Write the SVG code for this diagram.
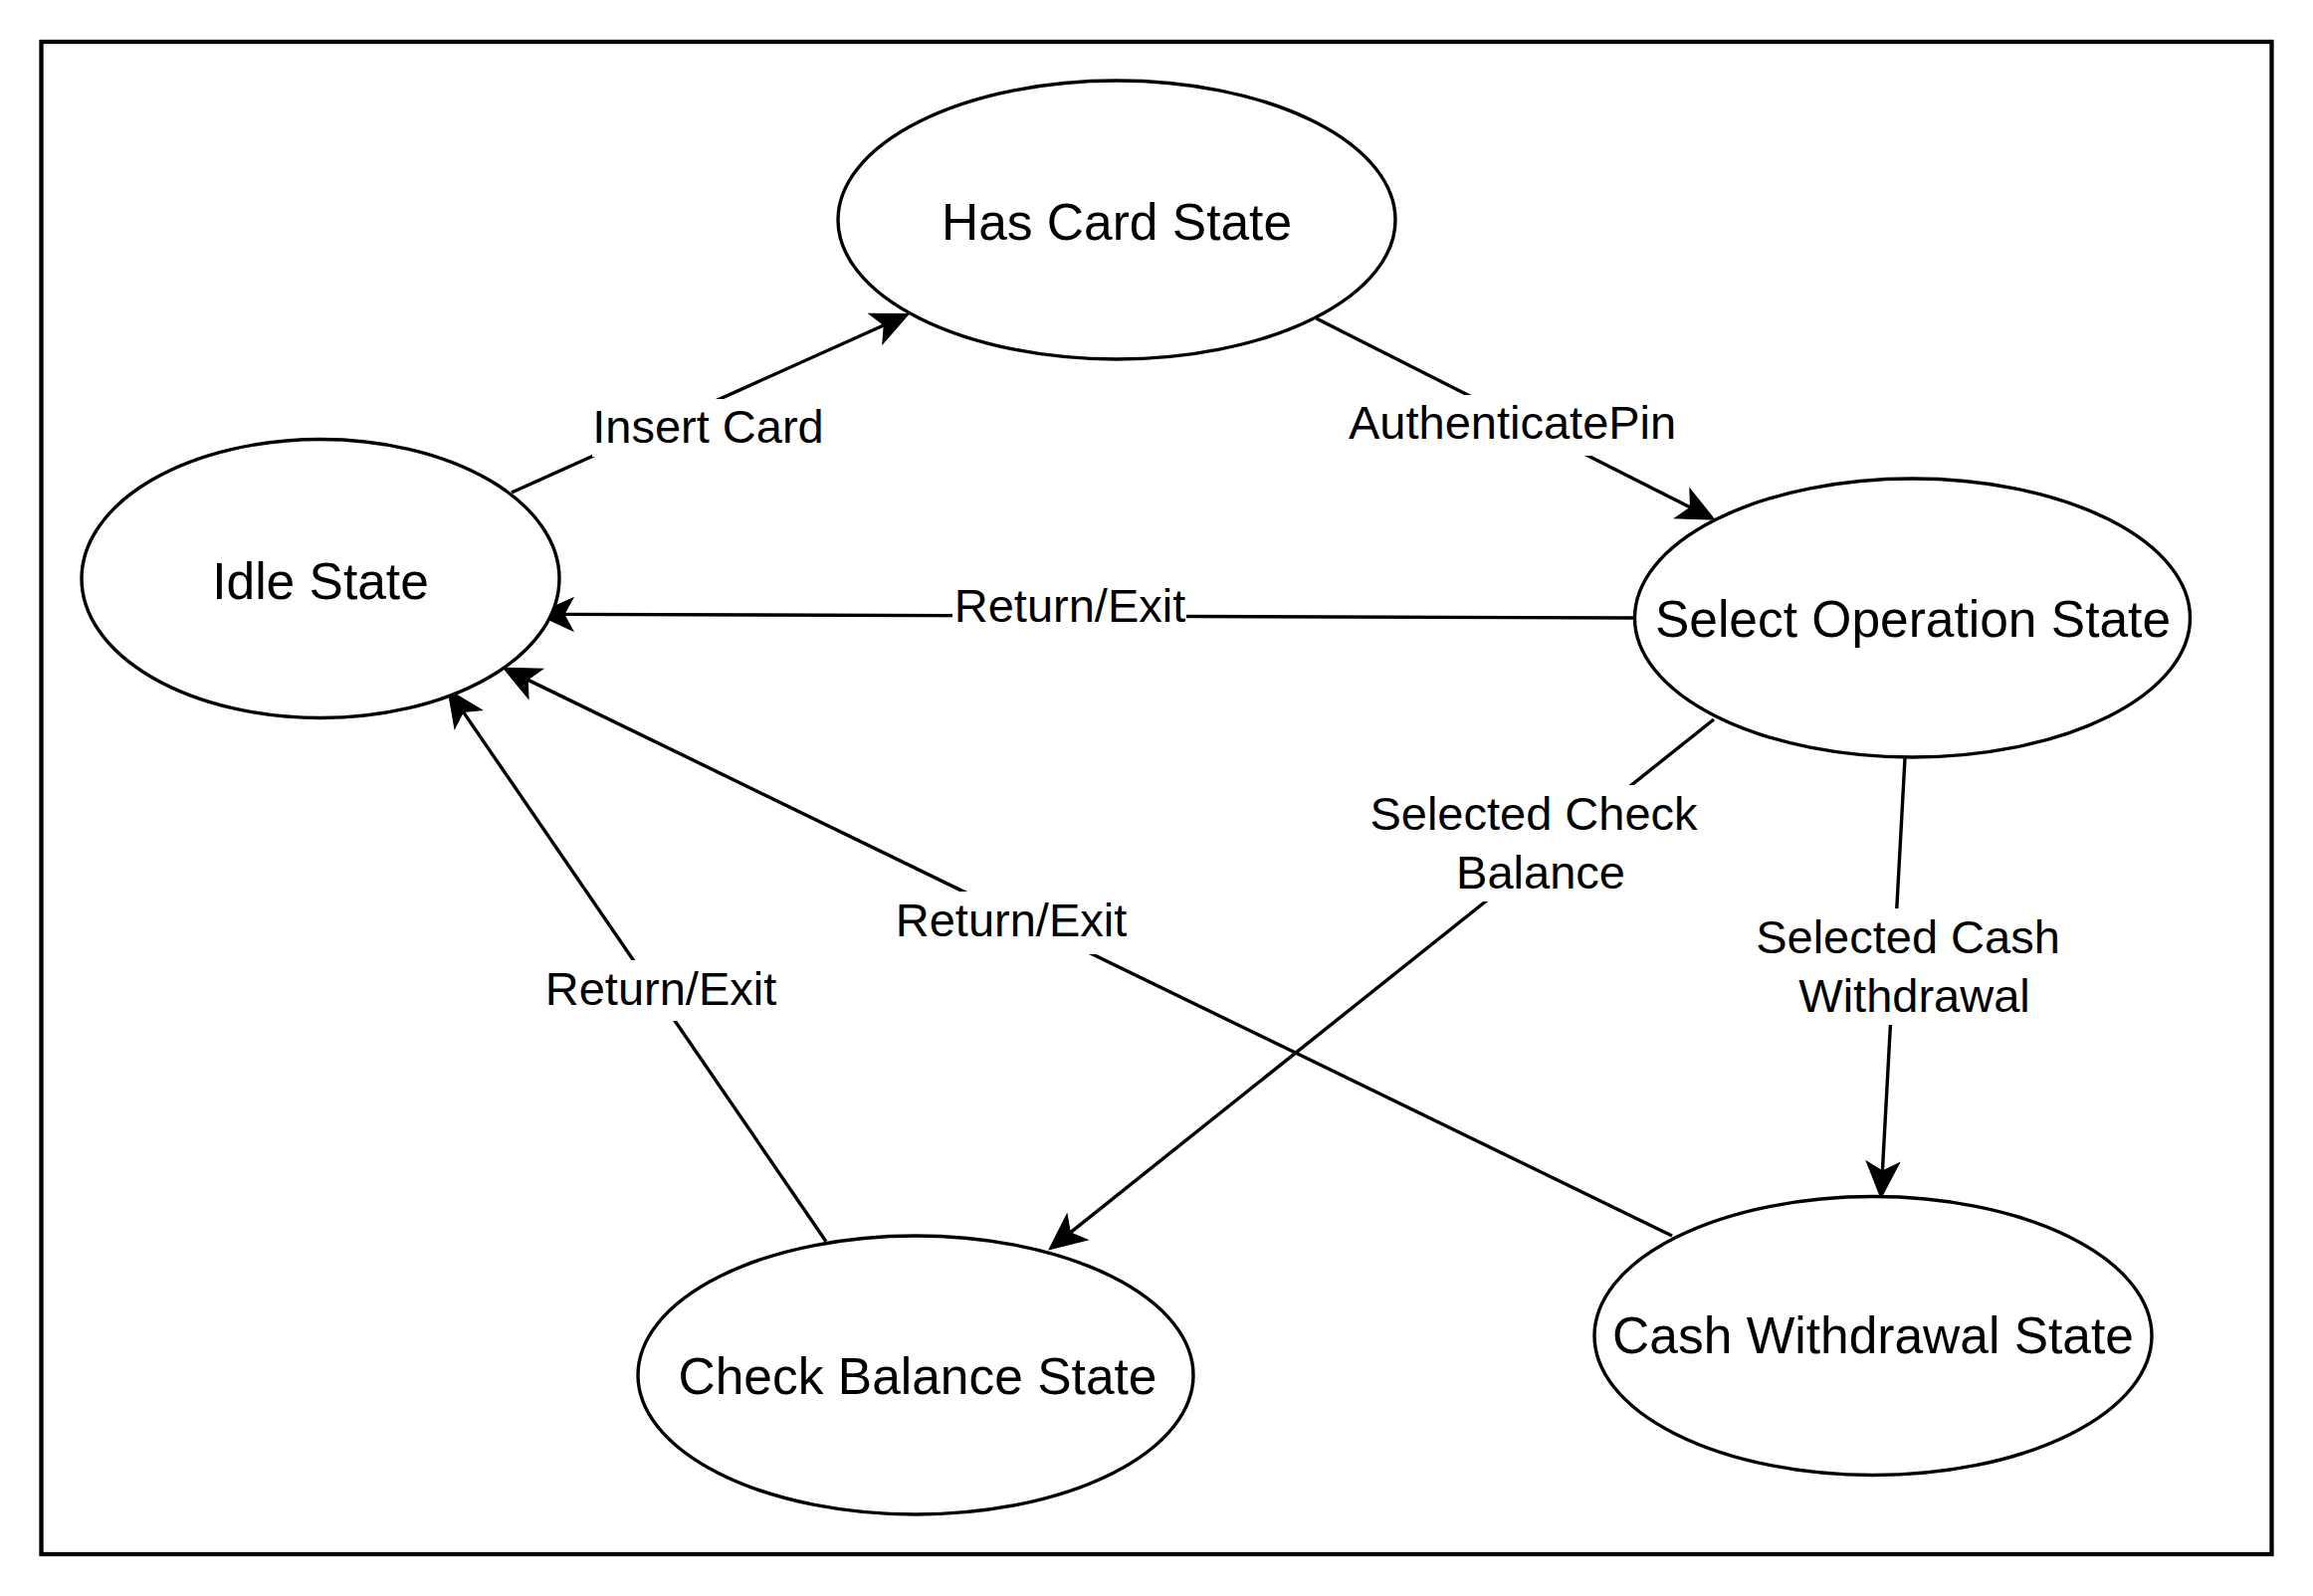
<svg xmlns="http://www.w3.org/2000/svg" width="2324" height="1604" viewBox="0 0 2324 1604">
  <style>
    .node { fill: #ffffff; stroke: #000000; stroke-width: 3.4; }
    .ntext { font-family: "Liberation Sans", Arial, Helvetica, sans-serif; font-size: 51.5px; fill: #000000; text-anchor: middle; }
    .edge { fill: none; stroke: #000000; stroke-width: 3.4; marker-end: url(#arrow); }
    .lblbg { fill: #ffffff; stroke: none; }
    .etext { font-family: "Liberation Sans", Arial, Helvetica, sans-serif; font-size: 47px; fill: #000000; text-anchor: middle; }
  </style>
  <defs>
    <marker id="arrow" markerUnits="userSpaceOnUse" markerWidth="46" markerHeight="40" viewBox="-13 -20 46 40" refX="0" refY="0" orient="auto">
      <path d="M27,0 L-9,-16.5 L0,0 L-9,16.5 Z" fill="#000000" stroke="#000000" stroke-width="1.2" stroke-linejoin="miter"/>
    </marker>
  </defs>
  <rect x="0" y="0" width="2324" height="1604" fill="#ffffff"/>
  <rect x="41.5" y="42" width="2241" height="1520" fill="none" stroke="#000000" stroke-width="4.3"/>

  <g id="connectors">
    <g id="edge-insert-card">
      <line class="edge" x1="514" y1="495" x2="888.3" y2="326.7"/>
      <rect class="lblbg" x="595" y="401" width="233" height="58"/>
      <text class="etext" x="711.5" y="445">Insert Card</text>
    </g>
    <g id="edge-authenticate-pin">
      <line class="edge" x1="1322.5" y1="320" x2="1698.5" y2="510"/>
      <rect class="lblbg" x="1353" y="397" width="333" height="61"/>
      <text class="etext" x="1519.6" y="441">AuthenticatePin</text>
    </g>
    <g id="edge-return-select">
      <line class="edge" x1="1642.5" y1="621" x2="566.7" y2="617.4"/>
      <rect class="lblbg" x="957" y="590" width="235" height="50"/>
      <text class="etext" x="1075" y="625">Return/Exit</text>
    </g>
    <g id="edge-selected-check">
      <line class="edge" x1="1722" y1="723" x2="1075.3" y2="1238.8"/>
      <rect class="lblbg" x="1375" y="789" width="333" height="117"/>
      <text class="etext" x="1541" y="834">Selected Check</text>
      <text class="etext" x="1548" y="893">Balance</text>
    </g>
    <g id="edge-selected-cash">
      <line class="edge" x1="1914" y1="762" x2="1891.4" y2="1177"/>
      <rect class="lblbg" x="1762" y="913" width="310" height="117"/>
      <text class="etext" x="1917" y="958">Selected Cash</text>
      <text class="etext" x="1923.5" y="1017">Withdrawal</text>
    </g>
    <g id="edge-return-cash">
      <line class="edge" x1="1680" y1="1242" x2="530.1" y2="683.1"/>
      <rect class="lblbg" x="899" y="896" width="234" height="63"/>
      <text class="etext" x="1016" y="941">Return/Exit</text>
    </g>
    <g id="edge-return-check">
      <line class="edge" x1="830" y1="1247.7" x2="465.4" y2="715.4"/>
      <rect class="lblbg" x="547" y="965" width="234" height="61"/>
      <text class="etext" x="664" y="1009.6">Return/Exit</text>
    </g>
  </g>

  <g id="node-has-card">
    <ellipse class="node" cx="1122" cy="221" rx="280" ry="140"/>
    <text class="ntext" x="1122" y="241">Has Card State</text>
  </g>
  <g id="node-idle">
    <ellipse class="node" cx="322" cy="581.5" rx="240" ry="140"/>
    <text class="ntext" x="322" y="602">Idle State</text>
  </g>
  <g id="node-select-operation">
    <ellipse class="node" cx="1921.5" cy="621" rx="279" ry="140"/>
    <text class="ntext" x="1922" y="640">Select Operation State</text>
  </g>
  <g id="node-check-balance">
    <ellipse class="node" cx="920" cy="1382" rx="279" ry="140"/>
    <text class="ntext" x="922" y="1400.5">Check Balance State</text>
  </g>
  <g id="node-cash-withdrawal">
    <ellipse class="node" cx="1882" cy="1342.5" rx="280" ry="140"/>
    <text class="ntext" x="1882" y="1360">Cash Withdrawal State</text>
  </g>
</svg>
